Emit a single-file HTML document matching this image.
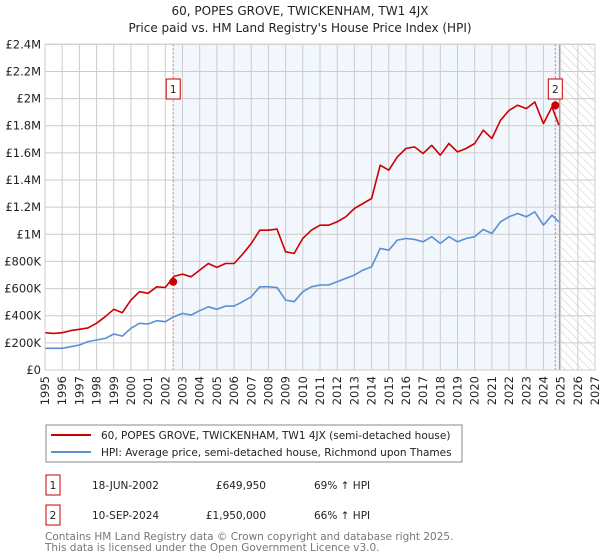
<!DOCTYPE html>
<html><head><meta charset="utf-8"><style>
body{margin:0;background:#fff;}
svg{display:block;font-family:"DejaVu Sans","Liberation Sans",sans-serif;}
</style></head><body>
<svg id="chart" width="600" height="560" xmlns="http://www.w3.org/2000/svg">
<defs>
<pattern id="hatch" width="6" height="6" patternUnits="userSpaceOnUse" patternTransform="rotate(-45)">
<line x1="0" y1="0" x2="0" y2="6" stroke="#ccc" stroke-width="1"/>
</pattern>
<clipPath id="plotclip"><rect x="45" y="44" width="550" height="326"/></clipPath>
</defs>
<text x="300" y="15" text-anchor="middle" font-size="12" fill="#222">60, POPES GROVE, TWICKENHAM, TW1 4JX</text>
<text x="300" y="32" text-anchor="middle" font-size="12" fill="#222">Price paid vs. HM Land Registry's House Price Index (HPI)</text>
<g id="plot"></g>
<g id="legend">
<rect x="46" y="425" width="416" height="37" fill="#fff" stroke="#888"/>
<line x1="51" y1="435" x2="91" y2="435" stroke="#cc0000" stroke-width="2"/>
<text x="101" y="439" font-size="10.5" fill="#222">60, POPES GROVE, TWICKENHAM, TW1 4JX (semi-detached house)</text>
<line x1="51" y1="452" x2="91" y2="452" stroke="#5b8fd4" stroke-width="2"/>
<text x="101" y="456" font-size="10.5" fill="#222">HPI: Average price, semi-detached house, Richmond upon Thames</text>
</g>
<g id="table" font-size="10.5" fill="#222">
<rect x="46" y="475" width="14" height="20" fill="#fff" stroke="#cc0000"/>
<text x="53" y="489" text-anchor="middle">1</text>
<text x="92" y="489">18-JUN-2002</text>
<text x="266" y="489" text-anchor="end">£649,950</text>
<text x="314" y="489">69% ↑ HPI</text>
<rect x="46" y="505" width="14" height="20" fill="#fff" stroke="#cc0000"/>
<text x="53" y="519" text-anchor="middle">2</text>
<text x="92" y="519">10-SEP-2024</text>
<text x="266" y="519" text-anchor="end">£1,950,000</text>
<text x="314" y="519">66% ↑ HPI</text>
</g>
<text x="45" y="540" font-size="10.5" fill="#777">Contains HM Land Registry data © Crown copyright and database right 2025.</text>
<text x="45" y="551" font-size="10.5" fill="#777">This data is licensed under the Open Government Licence v3.0.</text>
</svg>
<script>
const years = [1995,1995.5,1996,1996.5,1997,1997.5,1998,1998.5,1999,1999.5,2000,2000.5,2001,2001.5,2002,2002.5,2003,2003.5,2004,2004.5,2005,2005.5,2006,2006.5,2007,2007.5,2008,2008.5,2009,2009.5,2010,2010.5,2011,2011.5,2012,2012.5,2013,2013.5,2014,2014.5,2015,2015.5,2016,2016.5,2017,2017.5,2018,2018.5,2019,2019.5,2020,2020.5,2021,2021.5,2022,2022.5,2023,2023.5,2024,2024.5,2024.9];
const propertyValues = [275,270,275,290,300,310,345,393,447,422,515,577,565,613,608,690,707,687,736,785,756,785,785,854,932,1030,1030,1038,871,859,970,1030,1067,1067,1092,1129,1190,1227,1264,1509,1472,1570,1632,1644,1595,1656,1583,1669,1607,1632,1669,1767,1706,1840,1914,1951,1926,1975,1816,1939,1804];
const hpiValues = [160,160,160,172,184,209,221,233,265,250,307,344,339,363,356,393,417,405,437,466,447,471,471,503,540,613,613,608,515,503,577,613,626,626,650,675,699,736,761,896,883,957,969,962,945,982,933,982,945,969,982,1036,1006,1092,1129,1153,1129,1166,1067,1141,1092];
const saleYears = [2002.46, 2024.69];
const salePrices = [649.95, 1950];
const saleLabels = ["1","2"];
const yTicks = [0,200,400,600,800,1000,1200,1400,1600,1800,2000,2200,2400];
const yTickLabels = ["£0","£200K","£400K","£600K","£800K","£1M","£1.2M","£1.4M","£1.6M","£1.8M","£2M","£2.2M","£2.4M"];
const xTicks = [1995,1996,1997,1998,1999,2000,2001,2002,2003,2004,2005,2006,2007,2008,2009,2010,2011,2012,2013,2014,2015,2016,2017,2018,2019,2020,2021,2022,2023,2024,2025,2026,2027];

const X0=45,X1=595,Y0=370,Y1=44.3;
const xs = v => X0+(v-1995)/(2027-1995)*(X1-X0);
const ys = v => Y0-(v/2400)*(Y0-Y1);
const NS="http://www.w3.org/2000/svg";
const plot=document.getElementById('plot');
function mk(tag,attrs){const e=document.createElementNS(NS,tag);for(const k in attrs)e.setAttribute(k,attrs[k]);plot.appendChild(e);return e;}
const dataEnd=2024.9;
let r=mk('rect',{x:X0,y:Y1,width:X1-X0,height:Y0-Y1,fill:'#fff'});


r=mk('rect',{x:xs(saleYears[0]),y:Y1,width:xs(dataEnd)-xs(saleYears[0]),height:Y0-Y1,fill:'#f2f6fd'});


r=mk('rect',{x:xs(dataEnd)+1,y:Y1,width:X1-xs(dataEnd)-1,height:Y0-Y1,fill:'url(#hatch)'});


yTicks.forEach((t,i)=>{
  const g=mk('line',{x1:X0,x2:X1,y1:ys(t),y2:ys(t),stroke:'#ccc','stroke-width':1});
  
  
  const tx=mk('text',{x:X0-4,y:ys(t)+4,'text-anchor':'end','font-size':11.5,fill:'#222'});
  tx.textContent=yTickLabels[i];
  
  
});
xTicks.forEach(t=>{
  const g=mk('line',{x1:xs(t),x2:xs(t),y1:Y1,y2:Y0,stroke:'#ccc','stroke-width':1});
  
  
  const tx=mk('text',{x:0,y:0,'text-anchor':'end','font-size':11.5,fill:'#222',transform:`translate(${xs(t)+4},${Y0+6}) rotate(-90)`});
  tx.textContent=String(t);
  
  
});
let l=mk('line',{x1:xs(dataEnd)+0.5,x2:xs(dataEnd)+0.5,y1:Y1,y2:Y0,stroke:'#999','stroke-width':1});


saleYears.forEach((sy,i)=>{
  const d=mk('line',{x1:xs(sy),x2:xs(sy),y1:Y1,y2:Y0,stroke:'#f06060','stroke-width':1,'stroke-dasharray':'2,2'});
  
  
});
function path(vals,color,name){
  const d=vals.map((v,i)=>(i?'L':'M')+xs(years[i]).toFixed(1)+','+ys(v).toFixed(1)).join(' ');
  const p=mk('path',{d:d,fill:'none',stroke:color,'stroke-width':1.6,'stroke-linejoin':'round','clip-path':'url(#plotclip)'});
  
  
}
path(hpiValues,'#5b8fd4','hpi-line');
path(propertyValues,'#cc0000','property-line');
saleYears.forEach((sy,i)=>{
  const c=mk('circle',{cx:xs(sy),cy:ys(salePrices[i]),r:4,fill:'#cc0000'});
  
  
  const b=mk('rect',{x:xs(sy)-7,y:79,width:14,height:20,fill:'#fff',stroke:'#cc0000'});
  
  
  const t=mk('text',{x:xs(sy),y:93,'text-anchor':'middle','font-size':10.5,fill:'#222'});
  t.textContent=saleLabels[i];
  
  
});
let fr=mk('rect',{x:X0,y:Y1,width:X1-X0,height:Y0-Y1,fill:'none',stroke:'#ccc'});


</script>
</body></html>
